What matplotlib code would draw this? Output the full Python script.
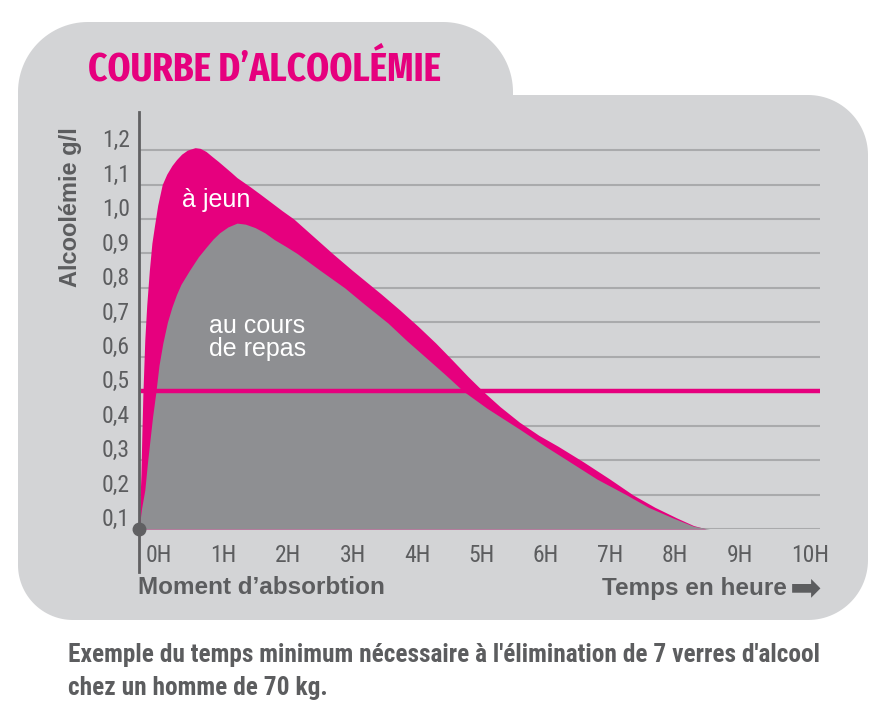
import os
import matplotlib
matplotlib.use("Agg")
import matplotlib.pyplot as plt
import numpy as np
from matplotlib.path import Path
from matplotlib.patches import PathPatch
from matplotlib.transforms import ScaledTranslation
from matplotlib import font_manager as fm
from matplotlib.font_manager import FontProperties

# ---------------- data ----------------
hours = list(range(0, 11))
x_labels = [f"{h}H" for h in hours]
y_ticks = [0.1, 0.2, 0.3, 0.4, 0.5, 0.6, 0.7, 0.8, 0.9, 1.0, 1.1, 1.2]
y_labels = ["0,1", "0,2", "0,3", "0,4", "0,5", "0,6", "0,7", "0,8", "0,9", "1,0", "1,1", "1,2"]

# "à jeun" (empty stomach)
t_jeun = [0, 0.015, 0.03, 0.045, 0.06, 0.09, 0.12, 0.16, 0.20, 0.24, 0.29, 0.36, 0.43, 0.51,
          0.58, 0.66, 0.75, 0.87, 0.95, 1.04, 1.13, 1.23, 1.33, 1.43, 1.52, 1.62, 1.72, 1.88,
          2.05, 2.22, 2.40, 2.70, 3.00, 3.30, 3.75, 4.05, 4.33, 4.60, 4.85, 5.10, 5.35, 5.60,
          5.90, 6.20, 6.50, 6.89, 7.30, 7.66, 8.00, 8.34, 8.60, 8.80]
v_jeun = [0.10, 0.18, 0.26, 0.38, 0.49, 0.65, 0.75, 0.85, 0.93, 0.98, 1.04, 1.10, 1.13, 1.155,
          1.172, 1.188, 1.200, 1.207, 1.205, 1.196, 1.182, 1.167, 1.151, 1.135, 1.12, 1.107, 1.094, 1.072,
          1.048, 1.024, 1.00, 0.95, 0.90, 0.852, 0.783, 0.735, 0.688, 0.640, 0.592, 0.543, 0.497, 0.455,
          0.41, 0.372, 0.34, 0.295, 0.245, 0.199, 0.163, 0.132, 0.11, 0.10]

# "au cours de repas" (with a meal)
t_repas = [0, 0.04, 0.09, 0.13, 0.17, 0.21, 0.26, 0.31, 0.37, 0.44, 0.51, 0.58, 0.65, 0.78,
           0.92, 1.05, 1.15, 1.25, 1.38, 1.52, 1.65, 1.80, 1.95, 2.10, 2.28, 2.45, 2.80, 3.19,
           3.50, 3.86, 4.15, 4.46, 4.75, 5.03, 5.40, 5.90, 6.30, 6.68, 7.10, 7.56, 7.90, 8.28,
           8.60, 8.85]
v_repas = [0.10, 0.16, 0.213, 0.29, 0.358, 0.425, 0.495, 0.575, 0.64, 0.70, 0.744, 0.78, 0.81, 0.85,
           0.89, 0.92, 0.942, 0.96, 0.977, 0.988, 0.985, 0.975, 0.96, 0.94, 0.92, 0.90, 0.852, 0.80,
           0.752, 0.698, 0.647, 0.596, 0.548, 0.50, 0.45, 0.39, 0.34, 0.295, 0.245, 0.199, 0.163, 0.132,
           0.108, 0.10]

THRESHOLD = 0.5

# ---------------- style ----------------
PINK = "#e6007e"
PANEL = "#d3d4d6"
FILLGRAY = "#8e8f92"
GRID = "#a9aaac"
TEXT = "#5c5d5f"
AXIS = "#606062"


def _weight(f):
    w = f.weight
    if isinstance(w, str):
        w = fm.weight_dict.get(w, 400)
    return int(w)


def find_font(target_weight, prefer_extra=False):
    """Find an installed condensed / narrow face."""
    best, best_score = None, None
    for f in fm.fontManager.ttflist:
        base = os.path.basename(f.fname).lower()
        nm = f.name.lower()
        if "italic" in base or "oblique" in base or f.style != "normal":
            continue
        st = str(f.stretch).lower()
        is_cond = ("narrow" in nm or "condensed" in nm or "narrow" in base or "condensed" in base
                   or st in ("condensed", "semi-condensed", "extra-condensed", "ultra-condensed")
                   or (st.isdigit() and int(st) < 500))
        if not is_cond:
            continue
        extra = "extracondensed" in base or "extra-condensed" in st or "ultracondensed" in base
        semi = "semicondensed" in base or "semi-condensed" in st
        if "liberation" in nm:
            fam = 0
        elif "roboto" in nm:
            fam = 1
        elif "noto sans" in nm and "cjk" not in nm:
            fam = 2
        elif "open sans" in nm:
            fam = 3
        elif "dejavu" in nm:
            fam = 4
        else:
            fam = 5
        width_pen = (0 if extra else 2) if prefer_extra else (1 if extra else 0) + (0.5 if semi else 0)
        score = (abs(_weight(f) - target_weight) / 100.0 + width_pen * 1.5 + fam * 0.3)
        if best_score is None or score < best_score:
            best, best_score = f.fname, score
    return best


def fp(path, size, fallback_family="DejaVu Sans", weight="normal"):
    if path:
        return FontProperties(fname=path, size=size)
    return FontProperties(family=fallback_family, size=size, weight=weight)


def sans_ok(name):
    try:
        fm.findfont(FontProperties(family=name), fallback_to_default=False)
        return True
    except Exception:
        return False


SANS = "Liberation Sans" if sans_ok("Liberation Sans") else "DejaVu Sans"
NARROW_REG = find_font(400)
NARROW_BOLD = find_font(700)
TITLE_FONT = find_font(700, prefer_extra=True)

W, H = 890, 710
fig = plt.figure(figsize=(W / 100, H / 100), dpi=100)
fig.patch.set_facecolor("white")
renderer = fig.canvas.get_renderer()


def fx(x):
    return x / W


def fy(y):
    return 1 - y / H


def fit_width(txt, target_px):
    bb = txt.get_window_extent(renderer=renderer)
    if bb.width > 0:
        txt.set_fontsize(txt.get_fontsize() * target_px / bb.width)


# ---------------- background panel ----------------
bg = fig.add_axes([0, 0, 1, 1])
bg.set_xlim(0, W)
bg.set_ylim(H, 0)
bg.axis("off")


def arc(cx, cy, r, a0, a1, n=30):
    a = np.radians(np.linspace(a0, a1, n))
    return list(zip(cx + r * np.cos(a), cy + r * np.sin(a)))


pts = []
pts += arc(88, 92, 70, 180, 270)
pts += arc(443, 92, 70, 270, 360)
pts += [(513, 95)]
pts += arc(808, 155, 60, 270, 360)
pts += arc(808, 560, 60, 0, 90)
pts += arc(73, 565, 55, 90, 180)
pts.append(pts[0])
codes = [Path.MOVETO] + [Path.LINETO] * (len(pts) - 2) + [Path.CLOSEPOLY]
bg.add_patch(PathPatch(Path(pts, codes), facecolor=PANEL, edgecolor="none"))

# ---------------- main axes ----------------
x0, x1 = 139, 820
ybase, ytop = 529, 112.2
ax = fig.add_axes([fx(x0), fy(ybase), (x1 - x0) / W, (ybase - ytop) / H])
ax.set_facecolor("none")
ax.set_xlim(0, 10.56)
ax.set_ylim(0.1, 1.31)
for s in ax.spines.values():
    s.set_visible(False)

ax.set_yticks(y_ticks)
ax.set_yticklabels(y_labels)
ax.set_xticks(hours)
ax.set_xticklabels(x_labels)
ax.yaxis.grid(True, color=GRID, lw=1.5)
ax.xaxis.grid(False)
ax.set_axisbelow(True)
ax.tick_params(length=0, colors=TEXT)
ax.tick_params(axis="y", pad=6.5)
ax.tick_params(axis="x", pad=10.5)
tick_size = 17 if NARROW_REG else 14
for lbl in ax.get_yticklabels():
    lbl.set_fontproperties(fp(NARROW_REG, tick_size))
    lbl.set_va("baseline")
    lbl.set_transform(lbl.get_transform() + ScaledTranslation(0, 2 / 72, fig.dpi_scale_trans))
for lbl in ax.get_xticklabels():
    lbl.set_fontproperties(fp(NARROW_REG, tick_size))
    lbl.set_ha("left")
    lbl.set_transform(lbl.get_transform() + ScaledTranslation(5 / 72, 0, fig.dpi_scale_trans))

ax.fill_between(t_jeun, y_ticks[0], v_jeun, color=PINK, lw=0, zorder=2)
ax.fill_between(t_repas, y_ticks[0], v_repas, color=FILLGRAY, lw=0, zorder=3)
ax.axhline(THRESHOLD, xmin=0.006, color=PINK, lw=3.2, zorder=4)
ax.axvline(0, ymin=-0.103, ymax=1, color=AXIS, lw=2, clip_on=False, zorder=5)
ax.plot([t_jeun[0]], [v_jeun[0]], "o", ms=9, color=AXIS, clip_on=False, zorder=6)

# curve labels
ax.text(0.67, 1.055, "à jeun", color="white", fontsize=18, family=SANS, va="center", ha="left", zorder=7)
ax.text(1.09, 0.655, "au cours\nde repas", color="white", fontsize=18, family=SANS,
        va="center", ha="left", linespacing=0.95, zorder=7)

# ---------------- texts ----------------
title = fig.text(fx(88), fy(70), "COURBE D’ALCOOLÉMIE", color=PINK,
                 fontproperties=fp(TITLE_FONT, 30, weight="bold"), ha="left", va="center")
fit_width(title, 352)
fig.text(fx(70), fy(207), "Alcoolémie g/l", color=TEXT, fontsize=17, fontweight="bold",
         family=SANS, rotation=90, ha="center", va="center")
fig.text(fx(138), fy(588), "Moment d’absorbtion", color=TEXT, fontsize=17.5, fontweight="bold",
         family=SANS, ha="left", va="center")
fig.text(fx(787), fy(588), "Temps en heure", color=TEXT, fontsize=17.5, fontweight="bold",
         family=SANS, ha="right", va="center")
fig.text(fx(790), fy(589), "➡", color=TEXT, fontsize=27, family=["DejaVu Sans"],
         ha="left", va="center")
cap1 = fig.text(fx(68), fy(655), "Exemple du temps minimum nécessaire à l'élimination de 7 verres d'alcool",
                color=TEXT, fontproperties=fp(NARROW_BOLD, 16, weight="bold"), ha="left", va="center")
fit_width(cap1, 754)
cap2 = fig.text(fx(68), fy(688), "chez un homme de 70 kg.",
                color=TEXT, fontproperties=fp(NARROW_BOLD, 16, weight="bold"), ha="left", va="center")
cap2.set_fontsize(cap1.get_fontsize())

fig.savefig("out.png", dpi=100, facecolor="white")
